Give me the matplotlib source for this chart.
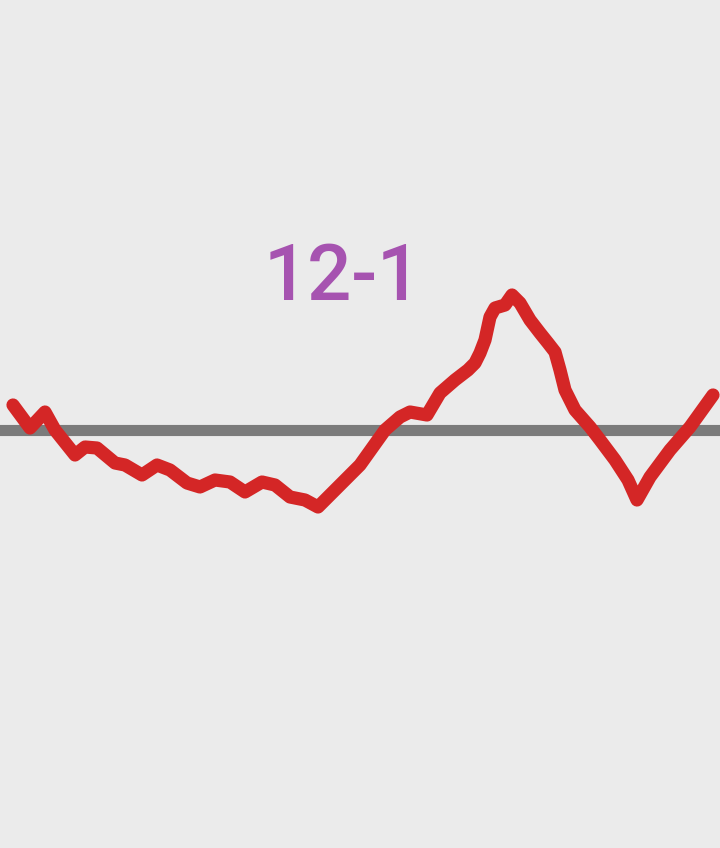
import matplotlib
matplotlib.use("Agg")
import matplotlib.pyplot as plt

# Series: horizontal position and level relative to the grey baseline
x_pos = [13, 30, 45, 55, 75, 85, 97, 115, 125, 142, 157, 170, 187, 200, 215, 230,
         245, 262, 275, 290, 305, 318, 360, 385, 400, 410, 427, 440, 455, 468, 475,
         480, 485, 490, 495, 505, 512, 520, 530, 540, 548, 555, 560, 565, 575, 590,
         600, 615, 628, 637, 650, 670, 690, 713]
levels = [25, 2, 18, 0, -25, -17, -18, -33, -35, -45, -35, -40, -53, -57, -50, -52,
          -62, -52, -55, -67, -70, -77, -35, 0, 13, 18, 15, 37, 50, 60, 67,
          77, 90, 113, 122, 125, 135, 127, 110, 97, 87, 78, 60, 40, 20, 3,
          -10, -30, -50, -70, -47, -20, 3, 35]
title_text = "12-1"

fig = plt.figure(figsize=(7.2, 8.48), dpi=100)
fig.patch.set_facecolor("#ebebeb")
ax = fig.add_axes([0, 0, 1, 1])
ax.set_facecolor("#ebebeb")
ax.set_xlim(0, 720)
ax.set_ylim(-418, 430)
ax.axis("off")

ax.axhline(0, color="#7b7b7b", linewidth=8, zorder=1)
ax.plot(x_pos, levels, color="#d42626", linewidth=9.5, solid_capstyle="round",
        solid_joinstyle="round", zorder=2)

fig.text(343 / 720, 1 - 278 / 848, title_text, color="#a653b0", fontsize=56,
         family="Roboto", ha="center", va="center", fontweight="medium")

fig.savefig("out.png", dpi=100, facecolor=fig.get_facecolor())
